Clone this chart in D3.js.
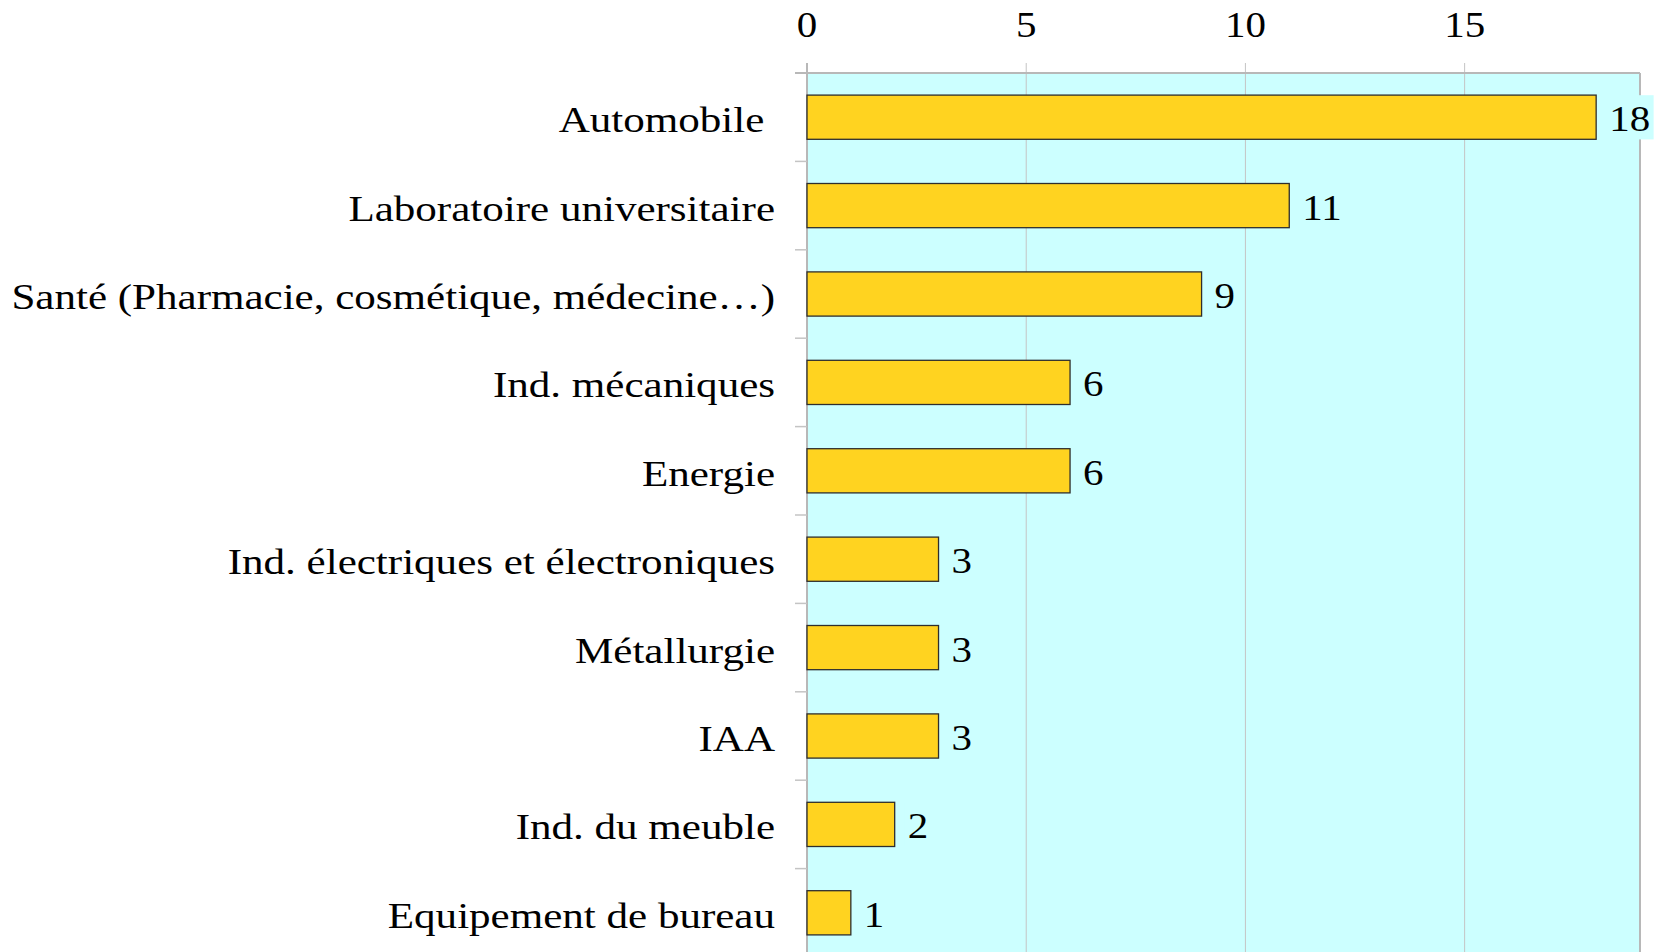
<!DOCTYPE html>
<html>
<head>
<meta charset="utf-8">
<script src="https://cdn.jsdelivr.net/npm/d3@7"></script>
<style>
  html, body { margin: 0; padding: 0; background: #fff; }
  svg { display: block; }
  text { font-family: "Liberation Serif", "DejaVu Serif", serif; fill: #000; white-space: pre; }
</style>
</head>
<body>
<div id="chart"></div>
<script>
// data
const categories = [
  'Automobile ',
  'Laboratoire universitaire',
  'Santé (Pharmacie, cosmétique, médecine…)',
  'Ind. mécaniques',
  'Energie',
  'Ind. électriques et électroniques',
  'Métallurgie',
  'IAA',
  'Ind. du meuble',
  'Equipement de bureau'
];
const values = [18, 11, 9, 6, 6, 3, 3, 3, 2, 1];
const xTicks = [0, 5, 10, 15];
const xMax = 19;

const width = 1664, height = 952;
const plot = { left: 807, right: 1640, top: 73, bottom: 957 };
const fontSize = 35;
const stretch = 1.17;     // glyphs are drawn wider than normal in the original
const labelStretch = 1.23; // category labels even a bit more

const svg = d3.select('#chart')
  .append('svg')
  .attr('width', width)
  .attr('height', height);

const x = d3.scaleLinear().domain([0, xMax]).range([plot.left, plot.right]);
const y = d3.scaleBand().domain(categories).range([plot.top, plot.bottom]).paddingInner(0.5).paddingOuter(0.25);
const band = d3.scaleBand().domain(categories).range([plot.top, plot.bottom]); // row boundaries

// background
svg.append('rect')
  .attr('x', plot.left).attr('y', plot.top)
  .attr('width', plot.right - plot.left).attr('height', plot.bottom - plot.top)
  .attr('fill', '#ccffff');

// vertical grid + tick marks above
svg.append('g').selectAll('line')
  .data(xTicks)
  .join('line')
  .attr('x1', d => x(d)).attr('x2', d => x(d))
  .attr('y1', plot.top - 10).attr('y2', plot.bottom)
  .attr('stroke', '#c4c4c4').attr('stroke-width', 1);

// frame: top, right, left
svg.append('line')
  .attr('x1', plot.left - 12).attr('x2', plot.right)
  .attr('y1', plot.top).attr('y2', plot.top)
  .attr('stroke', '#b8b8b8').attr('stroke-width', 2);
svg.append('line')
  .attr('x1', plot.right).attr('x2', plot.right)
  .attr('y1', plot.top).attr('y2', plot.bottom)
  .attr('stroke', '#b8b8b8').attr('stroke-width', 2);
svg.append('line')
  .attr('x1', plot.left).attr('x2', plot.left)
  .attr('y1', plot.top - 10).attr('y2', plot.bottom)
  .attr('stroke', '#b8b8b8').attr('stroke-width', 2);

// category boundary ticks on the left
svg.append('g').selectAll('line')
  .data(categories.slice(1))
  .join('line')
  .attr('x1', plot.left - 12).attr('x2', plot.left)
  .attr('y1', d => band(d)).attr('y2', d => band(d))
  .attr('stroke', '#c4c4c4').attr('stroke-width', 1.5);

// top tick labels
svg.append('g').selectAll('g')
  .data(xTicks)
  .join('g')
  .attr('transform', d => `translate(${x(d)},37) scale(${stretch},1)`)
  .append('text')
  .attr('text-anchor', 'middle')
  .attr('font-size', fontSize)
  .text(d => d);

// bars
svg.append('g').selectAll('rect')
  .data(values)
  .join('rect')
  .attr('x', x(0))
  .attr('y', (d, i) => y(categories[i]))
  .attr('width', d => x(d) - x(0))
  .attr('height', y.bandwidth())
  .attr('fill', '#ffd320')
  .attr('stroke', '#2e2e2e')
  .attr('stroke-width', 1.3);

// category labels
svg.append('g').selectAll('g')
  .data(categories)
  .join('g')
  .attr('transform', d => `translate(775,${band(d) + band.bandwidth() / 2 + 15}) scale(${labelStretch},1)`)
  .append('text')
  .attr('text-anchor', 'end')
  .attr('font-size', fontSize)
  .text(d => d);

// value labels with background box
const vl = svg.append('g').selectAll('g')
  .data(values)
  .join('g')
  .attr('transform', (d, i) => `translate(${x(d) + 13},${band(categories[i]) + band.bandwidth() / 2 + 14}) scale(${stretch},1)`);

vl.append('rect')
  .attr('x', -3)
  .attr('y', -36)
  .attr('width', d => String(d).length * fontSize * 0.5 + 6)
  .attr('height', y.bandwidth())
  .attr('fill', '#ccffff');

vl.append('text')
  .attr('font-size', fontSize)
  .text(d => d);
</script>
</body>
</html>
